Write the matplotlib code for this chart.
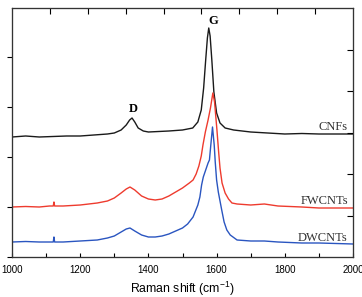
import matplotlib
matplotlib.use('Agg')
import matplotlib.pyplot as plt
from matplotlib.ticker import MultipleLocator

plt.rcParams['mathtext.fontset'] = 'custom'
plt.rcParams['mathtext.rm'] = 'Liberation Sans'
plt.rcParams['mathtext.it'] = 'Liberation Sans:italic'

# Raman spectra (intensity in arbitrary units, stacked)
cnf_shift = [1000, 1040, 1080, 1120, 1160, 1200, 1240, 1280, 1300, 1320, 1335,
             1345, 1352, 1360, 1370, 1385, 1400, 1430, 1460, 1500, 1530, 1545,
             1555, 1562, 1568, 1573, 1577, 1581, 1586, 1592, 1600, 1610, 1625,
             1650, 1700, 1750, 1800, 1850, 1900, 1950, 2000]
cnf_int = [120, 121, 120, 120.5, 121, 121, 122, 123, 124, 127, 132,
           137, 139, 135, 129, 126, 125, 125.5, 126, 127, 129, 135,
           147, 169, 197, 219, 229, 221, 197, 165, 144, 134, 129,
           127, 125, 124, 123, 123.5, 123, 123, 123]

fw_shift = [1000, 1040, 1080, 1110, 1121, 1123, 1125, 1150, 1200, 1250, 1280,
            1300, 1320, 1335, 1346, 1360, 1380, 1400, 1420, 1440, 1460, 1480,
            1500, 1520, 1531, 1540, 1548, 1555, 1560, 1567, 1575, 1582, 1589,
            1594, 1598, 1601, 1606, 1610, 1616, 1625, 1635, 1645, 1660, 1700,
            1740, 1780, 1850, 1900, 2000]
fw_int = [50, 50.5, 50, 51, 51, 55, 51, 51, 52, 54, 56,
          59, 64, 68, 70, 67, 61, 58, 57, 58, 61, 65,
          69, 74, 77, 83, 91, 101, 112, 125, 137, 149, 164,
          155, 139, 127, 105, 89, 74, 64, 58, 54, 53, 52,
          53, 51, 50, 49, 49]

dw_shift = [1000, 1040, 1080, 1110, 1121, 1123, 1125, 1150, 1200, 1250, 1280,
            1300, 1320, 1335, 1346, 1360, 1380, 1400, 1420, 1440, 1460, 1480,
            1500, 1515, 1531, 1545, 1551, 1556, 1561, 1568, 1575, 1579, 1583,
            1588, 1593, 1596, 1600, 1605, 1615, 1622, 1630, 1640, 1660, 1700,
            1740, 1780, 1850, 1900, 2000]
dw_int = [15, 15.5, 15, 15, 15, 20, 15, 15, 16, 17, 19,
          21, 25, 28, 29, 26, 22, 20, 20, 21, 23, 26,
          29, 33, 40, 52, 60, 72, 80, 87, 94, 97, 112,
          130, 112, 95, 77, 65, 47, 35, 27, 22, 17, 16,
          16, 15, 14, 14, 13]

labels = ['CNFs', 'FWCNTs', 'DWCNTs']
label_y = [127, 53, 16]

fig = plt.figure(figsize=(3.62, 2.97), dpi=100)
ax = fig.add_axes([12 / 362, 40 / 297, 341 / 362, 249 / 297])

ax.plot(cnf_shift, cnf_int, color='#1a1a1a', lw=1.0)
ax.plot(fw_shift, fw_int, color='#ee3b2e', lw=1.0)
ax.plot(dw_shift, dw_int, color='#2a55c0', lw=1.0)

ax.set_xlim(1000, 2000)
ax.set_ylim(0, 249)
ax.xaxis.set_major_locator(MultipleLocator(200))
ax.xaxis.set_minor_locator(MultipleLocator(100))
ax.tick_params(axis='x', which='both', direction='in', length=3, width=0.8,
               pad=6, labelsize=7, top=False)
ax.tick_params(axis='y', left=False, labelleft=False)
for lab in ax.get_xticklabels():
    lab.set_family('Liberation Sans')
ax.set_xlabel('Raman shift (cm$^{-1}$)', family='Liberation Sans',
              fontsize=8.8, labelpad=3)

# frame ticks on top and right that don't follow the data scale
top = ax.twiny()
top.set_xlim(0, 9)
top.set_xticks(range(1, 9))
top.tick_params(axis='x', direction='in', length=4, width=0.8, labeltop=False)
right = ax.twinx()
right.set_ylim(0, 6)
right.set_yticks(range(1, 6))
right.tick_params(axis='y', direction='in', length=4, width=0.8, labelright=False)

for a in (ax, top, right):
    for s in a.spines.values():
        s.set_linewidth(0.8)
        s.set_color('#333333')

ax.text(1589, 232.7, 'G', family='Liberation Serif', fontweight='bold',
        fontsize=9, ha='center', va='baseline')
ax.text(1355, 145, 'D', family='Liberation Serif', fontweight='bold',
        fontsize=9, ha='center', va='baseline')
for name, yv in zip(labels, label_y):
    ax.text(1985, yv, name, family='Liberation Serif', fontsize=9,
            color='#333333', ha='right', va='baseline')

fig.savefig('out.png', dpi=100)
